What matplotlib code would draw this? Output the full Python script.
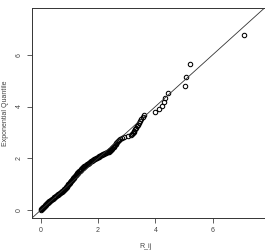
import matplotlib
matplotlib.use("Agg")
import matplotlib.pyplot as plt

plt.rcParams['font.family'] = ['Liberation Sans', 'DejaVu Sans']

r_ij = [
    0.00, 0.02, 0.04, 0.06, 0.08, 0.10, 0.12, 0.14, 0.16, 0.18, 0.20, 0.22, 0.24, 0.26, 0.28, 0.30,
    0.32, 0.35, 0.37, 0.40, 0.42, 0.45, 0.47, 0.50, 0.52, 0.55, 0.57, 0.59,
    0.61, 0.64, 0.66, 0.69, 0.71, 0.74, 0.76, 0.79, 0.81, 0.83,
    0.85, 0.87, 0.89, 0.91, 0.93, 0.95, 0.97, 0.99, 1.01, 1.03, 1.05, 1.06,
    1.08, 1.10, 1.12, 1.14, 1.16, 1.18, 1.20, 1.22, 1.24, 1.26, 1.28, 1.29,
    1.31, 1.34, 1.36, 1.39, 1.41, 1.44, 1.46, 1.48, 1.50, 1.52,
    1.55, 1.58, 1.61, 1.64, 1.67, 1.70, 1.73, 1.76, 1.79, 1.81,
    1.84, 1.87, 1.90, 1.93, 1.96, 1.99, 2.02, 2.05, 2.08, 2.10,
    2.13, 2.16, 2.19, 2.22, 2.25, 2.28, 2.31, 2.34, 2.37, 2.39,
    2.41, 2.43, 2.45, 2.47, 2.50, 2.52, 2.55, 2.57,
    2.59, 2.61, 2.63, 2.64, 2.66, 2.68,
    2.72, 2.76, 2.82, 2.92, 3.05, 3.14, 3.19, 3.22, 3.25, 3.27,
    3.30, 3.33, 3.37, 3.40, 3.43, 3.46, 3.50, 3.55, 3.61,
    3.97, 4.14, 4.23, 4.31, 4.35, 4.44, 5.03, 5.07, 5.22, 7.10,
]
exp_quantile = [
    0.01, 0.03, 0.05, 0.08, 0.10, 0.12, 0.14, 0.17, 0.19, 0.21, 0.24, 0.26, 0.28, 0.30, 0.33, 0.35,
    0.37, 0.39, 0.41, 0.43, 0.45, 0.48, 0.50, 0.52, 0.54, 0.56, 0.58, 0.60,
    0.62, 0.64, 0.66, 0.68, 0.70, 0.72, 0.74, 0.76, 0.78, 0.80,
    0.83, 0.86, 0.88, 0.91, 0.94, 0.97, 1.00, 1.02, 1.05, 1.08, 1.11, 1.12,
    1.15, 1.18, 1.20, 1.23, 1.26, 1.29, 1.32, 1.34, 1.37, 1.40, 1.43, 1.44,
    1.47, 1.50, 1.52, 1.55, 1.58, 1.61, 1.63, 1.66, 1.68, 1.70,
    1.72, 1.75, 1.77, 1.79, 1.82, 1.84, 1.86, 1.88, 1.91, 1.92,
    1.94, 1.96, 1.98, 2.00, 2.02, 2.04, 2.06, 2.08, 2.10, 2.12,
    2.13, 2.15, 2.17, 2.18, 2.20, 2.21, 2.23, 2.24, 2.26, 2.27,
    2.29, 2.31, 2.34, 2.36, 2.39, 2.42, 2.45, 2.47,
    2.51, 2.54, 2.57, 2.59, 2.62, 2.66,
    2.70, 2.73, 2.77, 2.81, 2.85, 2.89, 2.93, 2.98, 3.02, 3.07,
    3.13, 3.18, 3.24, 3.30, 3.37, 3.44, 3.52, 3.60, 3.69,
    3.80, 3.91, 4.03, 4.17, 4.34, 4.54, 4.79, 5.13, 5.64, 6.74,
]
ticks = [0, 2, 4, 6]
axis_limits = (-0.3, 7.8)

W, H = 265, 252
fig = plt.figure(figsize=(W / 100, H / 100), dpi=100)
left, right, top, bottom = 32, 264.5, 8, 218
ax = fig.add_axes([left / W, 1 - bottom / H, (right - left) / W, (bottom - top) / H])

ax.plot(r_ij, exp_quantile, linestyle='none', marker='o', markersize=3.2,
        markerfacecolor='none', markeredgecolor='black', markeredgewidth=0.75)
ax.axline((0, 0), slope=1, color='#333333', linewidth=0.6)

ax.set_xlim(*axis_limits)
ax.set_ylim(*axis_limits)
ax.set_xticks(ticks)
ax.set_yticks(ticks)
ax.tick_params(axis='both', direction='out', length=3.5, width=0.6,
               labelsize=5, colors='#444444', pad=3)
for lbl in ax.get_yticklabels():
    lbl.set_rotation(90)
    lbl.set_va('center')
for s in ax.spines.values():
    s.set_linewidth(0.7)
    s.set_color('#333333')

ax.set_xlabel('R_ij', fontsize=5, color='#444444')
ax.set_ylabel('Exponential Quantile', fontsize=5, color='#444444')
ax.xaxis.set_label_coords((145.7 - left) / (right - left), -(246.7 - bottom) / (bottom - top))
ax.yaxis.set_label_coords(-(left - 6) / (right - left), 0.5)
ax.xaxis.label.set_va('center')
ax.yaxis.label.set_va('center')

fig.savefig('out.png', dpi=100)
